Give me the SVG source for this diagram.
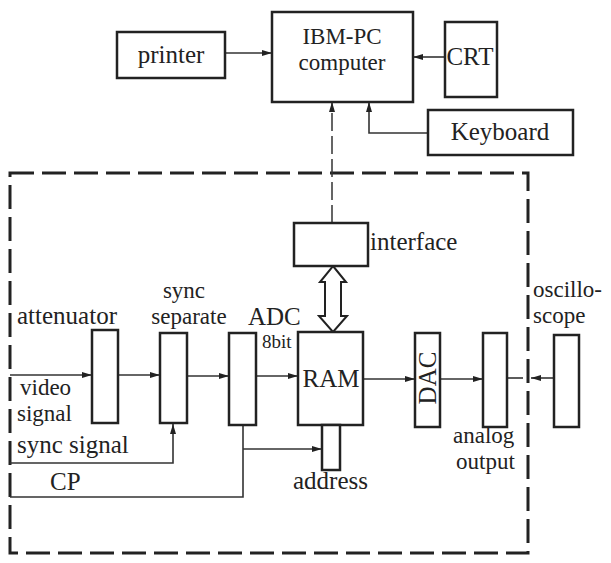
<svg xmlns="http://www.w3.org/2000/svg" width="611" height="563" viewBox="0 0 611 563" font-family="'Liberation Serif', 'DejaVu Serif', serif">
<defs>
<marker id="ah" viewBox="0 0 10 6" refX="10" refY="3" markerWidth="10" markerHeight="6" markerUnits="userSpaceOnUse" orient="auto">
<path d="M0,0 L10,3 L0,6 Z" fill="#222"/>
</marker>
<style>
.box{fill:#fff;stroke:#222;stroke-width:2.5}
.ln{fill:none;stroke:#333;stroke-width:1.6}
.dash{fill:none;stroke:#222;stroke-width:3;stroke-dasharray:24 8}
.dl{fill:none;stroke:#333;stroke-width:1.5;stroke-dasharray:18 5}
.dbl{fill:#fff;stroke:#222;stroke-width:2}
.t{font-family:'Liberation Serif','Times New Roman',serif;font-size:25px;fill:#222}
.s{font-size:23px}
.m{text-anchor:middle}
</style>
</defs>
<rect width="611" height="563" fill="#fff"/>

<g id="frame">
<rect class="dash" x="10" y="173" width="518" height="380"/>
</g>

<g id="connectors">
<line class="ln" x1="225" y1="53" x2="272" y2="53" marker-end="url(#ah)"/>
<line class="ln" x1="445" y1="57" x2="413" y2="57" marker-end="url(#ah)"/>
<polyline class="ln" points="428,133 369,133 369,102" marker-end="url(#ah)"/>
<line class="dl" x1="332" y1="223" x2="332" y2="102" marker-end="url(#ah)"/>
<line class="ln" x1="10" y1="375" x2="92" y2="375" marker-end="url(#ah)"/>
<line class="ln" x1="118" y1="375" x2="160" y2="375" marker-end="url(#ah)"/>
<line class="ln" x1="187" y1="376" x2="229" y2="376" marker-end="url(#ah)"/>
<line class="ln" x1="256" y1="376" x2="298" y2="376" marker-end="url(#ah)"/>
<line class="ln" x1="363" y1="379" x2="415" y2="379" marker-end="url(#ah)"/>
<line class="ln" x1="440" y1="379" x2="483" y2="379" marker-end="url(#ah)"/>
<line class="ln" x1="507" y1="378" x2="523" y2="378"/>
<line class="ln" x1="554" y1="378" x2="531" y2="378" marker-end="url(#ah)"/>
<polyline class="ln" points="10,463 173,463 173,424" marker-end="url(#ah)"/>
<polyline class="ln" points="10,497 243,497 243,425"/>
<line class="ln" x1="243" y1="449" x2="322" y2="449" marker-end="url(#ah)"/>
<path class="dbl" d="M333,266 L346,282 L341,282 L341,316 L347,316 L333,332 L319,316 L325,316 L325,282 L320,282 Z"/>
</g>

<g id="printer">
<rect class="box" x="117" y="32" width="108" height="46"/>
<text class="t m" x="171" y="63">printer</text>
</g>

<g id="computer">
<rect class="box" x="272" y="12" width="141" height="90"/>
<text class="t s m" x="342" y="44">IBM-PC</text>
<text class="t s m" x="342" y="70">computer</text>
</g>

<g id="crt">
<rect class="box" x="445" y="22" width="52" height="75"/>
<text class="t m" x="470" y="65">CRT</text>
</g>

<g id="keyboard">
<rect class="box" x="428" y="110" width="145" height="45"/>
<text class="t m" x="500" y="140">Keyboard</text>
</g>

<g id="interface">
<rect class="box" x="294" y="223" width="74" height="43"/>
<text class="t" x="370" y="250">interface</text>
</g>

<g id="attenuator">
<rect class="box" x="92" y="330" width="26" height="93"/>
<text class="t" x="17" y="324">attenuator</text>
</g>

<g id="sync-separate">
<rect class="box" x="160" y="333" width="27" height="90"/>
<text class="t s m" x="184" y="298">sync</text>
<text class="t s m" x="189" y="324">separate</text>
</g>

<g id="adc">
<rect class="box" x="229" y="333" width="27" height="92"/>
<text class="t" x="248" y="325">ADC</text>
<text class="t" x="262" y="348" style="font-size:19px">8bit</text>
</g>

<g id="ram">
<rect class="box" x="298" y="332" width="65" height="93"/>
<text class="t m" x="331" y="387">RAM</text>
</g>

<g id="address">
<rect class="box" x="322" y="425" width="18" height="45"/>
<text class="t" x="293" y="489">address</text>
</g>

<g id="dac">
<rect class="box" x="415" y="333" width="25" height="94"/>
<text class="t m" transform="translate(436,378) rotate(-90)" x="0" y="0">DAC</text>
</g>

<g id="analog-output">
<rect class="box" x="483" y="333" width="24" height="94"/>
<text class="t s" x="453" y="443">analog</text>
<text class="t s" x="456" y="469">output</text>
</g>

<g id="oscilloscope">
<rect class="box" x="554" y="335" width="25" height="92"/>
<text class="t s" x="533" y="297">oscillo-</text>
<text class="t s" x="533" y="323">scope</text>
</g>

<g id="labels">
<text class="t s" x="20" y="395">video</text>
<text class="t s" x="17" y="421">signal</text>
<text class="t" x="17" y="453">sync signal</text>
<text class="t" x="50" y="490">CP</text>
</g>
</svg>
